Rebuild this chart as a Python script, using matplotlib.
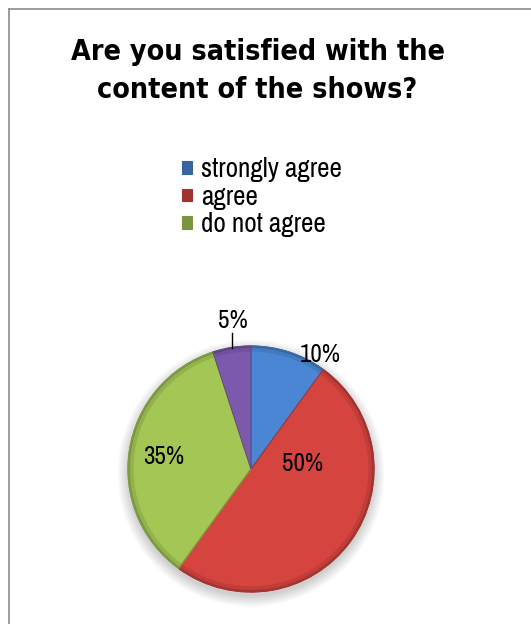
import numpy as np
from matplotlib import pyplot as plt
from matplotlib.lines import Line2D
from matplotlib.patches import Circle
from matplotlib.colors import to_rgb

title = 'Are you satisfied with the\ncontent of the shows?'
categories = ['strongly agree', 'agree', 'do not agree', '']
values = [10, 50, 35, 5]
colors = ['#4a86d4', '#d5443f', '#a3c655', '#7d59ad']

# where each percentage goes: (angle in degrees, distance from centre)
label_spots = [(59, 1.09), (6.6, 0.42), (172, 0.72), (97, 1.22)]

narrow = ['Archivo Narrow', 'DejaVu Sans']


def shade(c, f):
    r = np.array(to_rgb(c))
    if f < 1:
        return tuple(r * f)
    return tuple(r + (1 - r) * (f - 1))


fig = plt.figure(figsize=(5.31, 6.24), dpi=100)

# chart frame, only the top and left edges fall inside the image
fig.add_artist(Line2D([9 / 531, 1], [1 - 9 / 624, 1 - 9 / 624],
                      color='#8c8c8c', lw=1.2, transform=fig.transFigure))
fig.add_artist(Line2D([9 / 531, 9 / 531], [0, 1 - 9 / 624],
                      color='#8c8c8c', lw=1.2, transform=fig.transFigure))

fig.text(0.485, 1 - 71 / 624, title, ha='center', va='center',
         fontsize=20.5, fontweight='bold', family='DejaVu Sans',
         fontstretch='condensed', linespacing=1.5)

ax = fig.add_axes([(251 - 123) / 531, (624 - 592) / 624, 246 / 531, 246 / 624])

# soft shadow under the pie
for k in range(8):
    ax.add_patch(Circle((0.0, -0.035), 1.0 + 0.012 * k, color='#000000',
                        alpha=0.022, lw=0, zorder=0, clip_on=False))


def layer(radius, cols, z, edge=None):
    ws, _ = ax.pie(values, colors=cols, startangle=90, counterclock=False,
                   radius=radius, frame=True)
    for w, c in zip(ws, cols):
        w.set_zorder(z)
        if edge is not None:
            w.set_edgecolor(edge(c))
            w.set_linewidth(0.8)
    return ws


# beveled look: thin dark rim, soft band, then the base colour
rims = [shade(c, 0.75) for c in colors]
wedges = layer(1.0, rims, 1, edge=lambda c: c)
layer(0.985, [shade(c, 0.9) for c in colors], 2)
layer(0.955, colors, 3)
outline = layer(1.0, colors, 4, edge=lambda c: shade(c, 0.8))
for w in outline:
    w.set_facecolor('none')

ax.set_xlim(-1, 1)
ax.set_ylim(-1, 1)
ax.set_aspect('equal')
ax.axis('off')

for v, (ang, dist) in zip(values, label_spots):
    a = np.deg2rad(ang)
    ax.text(dist * np.cos(a), dist * np.sin(a), f'{v}%', ha='center',
            va='center', fontsize=18, family=narrow, fontstretch='condensed',
            zorder=6)

# leader line for the smallest slice
ax.plot([-0.155, -0.155], [0.985, 1.105], color='black', lw=1.0,
        zorder=6, clip_on=False)

fig.legend(wedges[:3], categories[:3], loc='upper left',
           bbox_to_anchor=(182 / 531, 1 - 157 / 624), frameon=False,
           prop=dict(family=narrow, stretch='condensed', size=19.5),
           handlelength=0.36, handleheight=0.36, handletextpad=0.35,
           labelspacing=0.1, borderpad=0, borderaxespad=0)

fig.savefig('out.png', dpi=100, facecolor='white')
